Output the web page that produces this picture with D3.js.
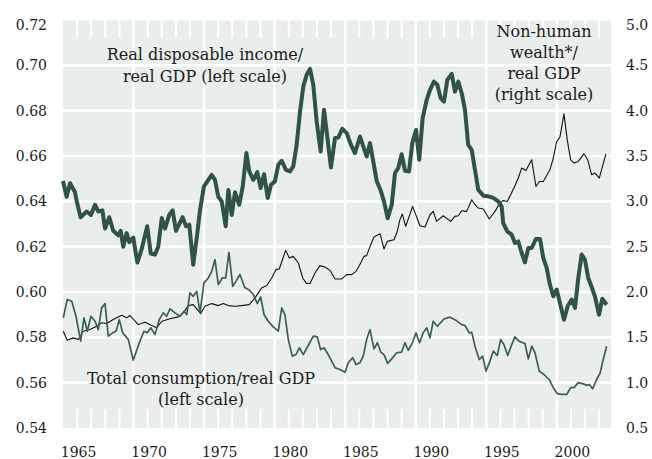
<!DOCTYPE html>
<html>
<head>
<meta charset="utf-8">
<script src="https://cdn.jsdelivr.net/npm/d3@7"></script>
<style>
  html, body { margin: 0; padding: 0; background: #fff; }
  svg text { font-family: "DejaVu Serif", serif; fill: #1a1a1a; }
</style>
</head>
<body>
<svg id="chart" width="652" height="459"></svg>
<script>
// ---------------- data ----------------
const leftTicks = [0.54, 0.56, 0.58, 0.60, 0.62, 0.64, 0.66, 0.68, 0.70, 0.72];
const rightTicks = [0.5, 1.0, 1.5, 2.0, 2.5, 3.0, 3.5, 4.0, 4.5, 5.0];
const yearLabels = [1965, 1970, 1975, 1980, 1985, 1990, 1995, 2000];
const yearTicks = d3.range(1965, 2003);

// Real disposable income / real GDP (left scale)
const incomeData = [
[1964.00,.649],[1964.26,.642],[1964.50,.648],[1964.85,.644],[1965.01,.639],[1965.25,.633],[1965.68,.6355],[1965.98,.634],
[1966.27,.6385],[1966.50,.6355],[1966.79,.636],[1966.98,.628],[1967.28,.633],[1967.56,.627],[1967.92,.625],[1968.09,.627],
[1968.27,.620],[1968.51,.626],[1968.70,.622],[1968.98,.624],[1969.27,.613],[1969.58,.619],[1969.97,.629],[1970.22,.617],
[1970.52,.6165],[1970.75,.620],[1971.00,.6326],[1971.23,.628],[1971.53,.634],[1971.77,.636],[1972.01,.627],[1972.24,.630],
[1972.48,.633],[1972.72,.629],[1972.95,.6297],[1973.23,.612],[1973.52,.626],[1973.71,.636],[1973.99,.6466],[1974.30,.6495],
[1974.54,.6517],[1974.77,.6495],[1975.01,.642],[1975.25,.640],[1975.53,.629],[1975.72,.645],[1975.96,.634],[1976.19,.644],
[1976.49,.6385],[1976.74,.6466],[1977.00,.6613],[1977.20,.6532],[1977.49,.6495],[1977.77,.6529],[1978.01,.6459],[1978.25,.652],
[1978.51,.6415],[1978.74,.6473],[1979.02,.6488],[1979.26,.6561],[1979.50,.6579],[1979.80,.6539],[1980.09,.6532],[1980.32,.6554],
[1980.56,.6649],[1980.80,.6796],[1981.03,.6906],[1981.27,.6958],[1981.51,.6984],[1981.74,.6914],[1981.98,.6752],[1982.26,.662],
[1982.50,.6804],[1982.73,.6686],[1982.99,.6549],[1983.28,.6679],[1983.51,.6681],[1983.79,.672],[1984.11,.6701],[1984.39,.6652],
[1984.69,.6613],[1985.05,.6686],[1985.28,.6642],[1985.52,.6598],[1985.76,.6657],[1985.99,.6576],[1986.23,.6491],[1986.52,.6447],
[1986.75,.640],[1987.01,.6326],[1987.30,.6385],[1987.53,.6525],[1987.76,.6547],[1988.00,.6608],[1988.24,.6535],[1988.52,.6532],
[1988.76,.6657],[1989.02,.6715],[1989.25,.6583],[1989.49,.6767],[1989.78,.6848],[1990.01,.6892],[1990.29,.6928],[1990.53,.6914],
[1990.77,.6855],[1991.00,.684],[1991.24,.6936],[1991.55,.6962],[1991.78,.6884],[1992.02,.6928],[1992.26,.6877],[1992.49,.6804],
[1992.72,.6649],[1992.97,.6627],[1993.20,.6539],[1993.43,.6451],[1993.79,.6425],[1994.14,.6422],[1994.50,.6415],[1994.85,.640],
[1995.09,.6378],[1995.20,.6304],[1995.49,.6267],[1995.80,.6253],[1996.03,.6216],[1996.27,.6223],[1996.51,.6172],[1996.74,.6131],
[1996.98,.6194],[1997.22,.6194],[1997.52,.6234],[1997.81,.6234],[1998.04,.615],[1998.28,.6106],[1998.51,.6033],[1998.75,.5981],
[1998.99,.6011],[1999.22,.5952],[1999.51,.5878],[1999.77,.5937],[2000.05,.5967],[2000.29,.593],[2000.52,.6062],[2000.76,.6165],
[2000.99,.6143],[2001.23,.6062],[2001.47,.6022],[2001.70,.5981],[2001.99,.590],[2002.22,.597],[2002.53,.5944]
];

// Total consumption / real GDP (left scale)
const consumptionData = [
[1964.02,.5886],[1964.30,.5967],[1964.62,.5959],[1964.92,.5893],[1965.25,.5783],[1965.49,.5886],[1965.72,.5827],[1965.98,.5893],
[1966.27,.5871],[1966.50,.5834],[1966.74,.593],[1966.98,.5949],[1967.21,.5805],[1967.52,.582],[1967.76,.5827],[1967.99,.5878],
[1968.23,.582],[1968.63,.579],[1968.98,.5699],[1969.41,.5776],[1969.74,.5827],[1969.97,.582],[1970.22,.5842],[1970.52,.5812],
[1970.82,.5878],[1971.11,.5908],[1971.35,.5893],[1971.58,.5926],[1971.94,.5908],[1972.29,.5893],[1972.58,.5915],[1972.77,.590],
[1973.00,.5996],[1973.23,.5981],[1973.48,.6003],[1973.71,.5908],[1973.99,.604],[1974.30,.6062],[1974.54,.6091],[1974.77,.6143],
[1975.01,.6033],[1975.29,.6062],[1975.53,.6062],[1975.76,.6175],[1976.03,.6025],[1976.26,.6047],[1976.54,.6077],[1976.88,.602],
[1977.20,.6009],[1977.49,.5989],[1977.77,.5949],[1978.01,.5978],[1978.25,.590],[1978.55,.5871],[1978.90,.5846],[1979.26,.5827],
[1979.50,.593],[1979.73,.590],[1979.97,.579],[1980.25,.5717],[1980.51,.5724],[1980.75,.5754],[1981.03,.5724],[1981.38,.5764],
[1981.74,.5805],[1982.02,.5802],[1982.26,.5746],[1982.50,.5754],[1982.80,.5724],[1983.28,.5666],[1983.63,.5658],[1983.99,.5646],
[1984.22,.5688],[1984.53,.571],[1984.77,.568],[1985.05,.5688],[1985.28,.5717],[1985.52,.579],[1985.76,.5834],[1986.04,.5749],
[1986.28,.5776],[1986.52,.5735],[1986.75,.5724],[1987.01,.5685],[1987.30,.5705],[1987.65,.5732],[1988.00,.5735],[1988.24,.5776],
[1988.47,.5743],[1988.78,.5778],[1989.02,.582],[1989.27,.5776],[1989.53,.582],[1989.78,.5842],[1990.01,.5798],[1990.24,.5871],
[1990.53,.5849],[1991.00,.5881],[1991.43,.5889],[1991.85,.5875],[1992.26,.5856],[1992.49,.5852],[1992.79,.582],[1992.97,.5822],
[1993.20,.5761],[1993.50,.5702],[1993.74,.5717],[1993.98,.5651],[1994.26,.5695],[1994.50,.5739],[1994.78,.572],[1995.02,.579],
[1995.25,.5768],[1995.52,.572],[1995.80,.5768],[1996.03,.5802],[1996.32,.5783],[1996.74,.5773],[1996.98,.5705],[1997.22,.5761],
[1997.45,.5732],[1997.76,.5651],[1998.09,.5636],[1998.46,.5614],[1998.75,.5578],[1999.03,.5552],[1999.34,.5548],[1999.70,.5548],
[1999.98,.5578],[2000.22,.5578],[2000.52,.560],[2000.87,.5595],[2001.12,.5588],[2001.30,.5592],[2001.54,.5573],[2001.82,.5614],
[2002.06,.5641],[2002.29,.5702],[2002.53,.5761]
];

// Non-human wealth / real GDP (right scale)
const wealthData = [
[1964.02,1.567],[1964.30,1.468],[1964.73,1.494],[1965.08,1.476],[1965.44,1.567],[1965.91,1.586],[1966.39,1.622],[1966.74,1.660],
[1967.10,1.652],[1967.56,1.696],[1968.16,1.744],[1968.51,1.715],[1968.75,1.740],[1969.34,1.641],[1969.81,1.666],[1970.29,1.630],
[1970.64,1.605],[1971.00,1.677],[1971.58,1.704],[1972.17,1.726],[1972.53,1.770],[1972.88,1.850],[1973.23,1.861],[1973.48,1.814],
[1973.76,1.762],[1974.06,1.842],[1974.54,1.872],[1975.01,1.850],[1975.36,1.872],[1975.72,1.850],[1976.19,1.842],[1976.66,1.850],
[1977.20,1.861],[1977.61,1.935],[1978.08,2.045],[1978.44,2.071],[1978.79,2.155],[1979.10,2.247],[1979.33,2.254],[1979.78,2.459],
[1980.04,2.376],[1980.32,2.393],[1980.68,2.320],[1980.99,2.155],[1981.27,2.093],[1981.51,2.093],[1981.86,2.210],[1982.21,2.291],
[1982.57,2.276],[1982.92,2.239],[1983.28,2.144],[1983.75,2.144],[1984.11,2.192],[1984.46,2.192],[1984.77,2.228],[1985.10,2.320],
[1985.33,2.393],[1985.52,2.401],[1985.81,2.522],[1986.04,2.607],[1986.47,2.643],[1986.75,2.475],[1986.98,2.558],[1987.46,2.577],
[1987.69,2.668],[1987.88,2.797],[1988.05,2.860],[1988.29,2.724],[1988.78,2.944],[1989.30,2.730],[1989.66,2.717],[1990.01,2.852],
[1990.24,2.889],[1990.48,2.779],[1990.95,2.841],[1991.48,2.779],[1991.78,2.834],[1992.02,2.841],[1992.26,2.896],[1992.61,2.889],
[1992.97,3.018],[1993.20,2.963],[1993.43,2.926],[1993.79,2.915],[1994.21,2.805],[1994.62,2.889],[1994.97,2.981],[1995.20,3.010],
[1995.49,2.999],[1995.73,3.073],[1996.03,3.172],[1996.27,3.257],[1996.51,3.367],[1996.81,3.340],[1997.22,3.458],[1997.52,3.164],
[1997.76,3.219],[1998.04,3.219],[1998.51,3.348],[1998.75,3.477],[1998.99,3.660],[1999.22,3.708],[1999.51,3.965],[1999.74,3.678],
[1999.98,3.458],[2000.22,3.422],[2000.52,3.440],[2000.92,3.524],[2001.19,3.458],[2001.47,3.293],[2001.70,3.312],[2002.01,3.257],
[2002.48,3.524]
];

const labelIncome = ["Real disposable income/", "real GDP (left scale)"];
const labelWealth = ["Non-human", "wealth*/", "real GDP", "(right scale)"];
const labelConsumption = ["Total consumption/real GDP", "(left scale)"];

// ---------------- drawing ----------------
const svg = d3.select("#chart");
const plot = { left: 63, right: 611, top: 20, bottom: 428 };

const x = d3.scaleLinear().domain([1964, 2002.84]).range([plot.left, plot.right]);
const yL = d3.scaleLinear().domain([0.54, 0.72]).range([plot.bottom, plot.top]);
const yR = d3.scaleLinear().domain([0.5, 5.0]).range([plot.bottom, plot.top]);

svg.append("rect")
  .attr("x", plot.left).attr("y", plot.top + 0.5)
  .attr("width", plot.right - plot.left).attr("height", plot.bottom - plot.top - 0.5)
  .attr("fill", "#e9edeb");

// horizontal gridlines
svg.append("g").selectAll("line")
  .data(leftTicks.filter(d => d > 0.541 && d < 0.719))
  .join("line")
  .attr("x1", plot.left).attr("x2", plot.right)
  .attr("y1", d => yL(d)).attr("y2", d => yL(d))
  .attr("stroke", "#fff").attr("stroke-width", 2.5);

// vertical gridlines (at the year boundary before each labelled year)
svg.append("g").selectAll("line")
  .data(yearLabels.slice(1).map(d => d - 1))
  .join("line")
  .attr("x1", d => x(d)).attr("x2", d => x(d))
  .attr("y1", plot.top).attr("y2", plot.bottom)
  .attr("stroke", "#fff").attr("stroke-width", 2.5);

// year ticks top and bottom
const tg = svg.append("g");
tg.selectAll("line.t").data(yearTicks).join("line").attr("class", "t")
  .attr("x1", d => x(d)).attr("x2", d => x(d))
  .attr("y1", plot.top).attr("y2", plot.top + 18)
  .attr("stroke", "#fff").attr("stroke-width", 2);
tg.selectAll("line.b").data(yearTicks).join("line").attr("class", "b")
  .attr("x1", d => x(d)).attr("x2", d => x(d))
  .attr("y1", plot.bottom - 19).attr("y2", plot.bottom)
  .attr("stroke", "#fff").attr("stroke-width", 2);

// axes labels
svg.append("g").selectAll("text").data(leftTicks).join("text")
  .attr("x", 47).attr("y", d => yL(d) + (d > 0.719 ? 5 : 0))
  .attr("dy", "0.36em").attr("text-anchor", "end")
  .style("font-size", "14px")
  .text(d => d3.format(".2f")(d));

svg.append("g").selectAll("text").data(rightTicks).join("text")
  .attr("x", 626).attr("y", d => yR(d) + (d > 4.99 ? 5 : 0))
  .attr("dy", "0.36em").attr("text-anchor", "start")
  .style("font-size", "14px")
  .text(d => d3.format(".1f")(d));

svg.append("g").selectAll("text").data(yearLabels).join("text")
  .attr("x", d => x(d) + 1.5).attr("y", 457)
  .attr("text-anchor", "middle")
  .style("font-size", "14px")
  .text(d => d);

// lines
const lineL = d3.line().x(d => x(d[0])).y(d => yL(d[1]));
const lineR = d3.line().x(d => x(d[0])).y(d => yR(d[1]));

svg.append("path").datum(wealthData).attr("d", lineR)
  .attr("fill", "none").attr("stroke", "#111").attr("stroke-width", 1.1)
  .attr("stroke-linejoin", "round");
svg.append("path").datum(consumptionData).attr("d", lineL)
  .attr("fill", "none").attr("stroke", "#3b5f56").attr("stroke-width", 1.7)
  .attr("stroke-linejoin", "round");
svg.append("path").datum(incomeData).attr("d", lineL)
  .attr("fill", "none").attr("stroke", "#2f5249").attr("stroke-width", 4)
  .attr("stroke-linejoin", "round");

// annotations
function block(lines, cx, y0, lh) {
  svg.append("g").selectAll("text").data(lines).join("text")
    .attr("x", cx).attr("y", (d, i) => y0 + i * lh)
    .attr("text-anchor", "middle")
    .style("font-size", "16px")
    .text(d => d);
}
block(labelIncome, 205, 60, 21.5);
block(labelWealth, 544, 37, 21);
block(labelConsumption, 201, 384, 21);
</script>
</body>
</html>
